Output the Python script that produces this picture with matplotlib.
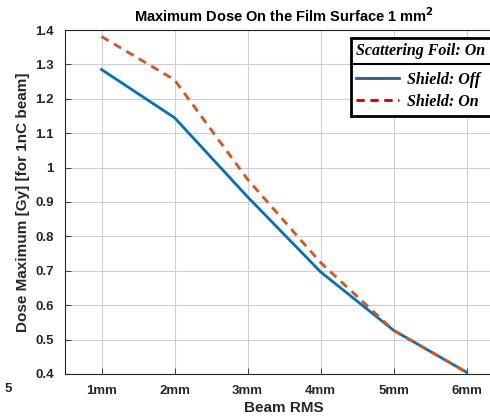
import matplotlib
matplotlib.use('Agg')
import matplotlib.pyplot as plt
from matplotlib.lines import Line2D

# Dosis maxima sobre la superficie del film (1 mm^2), normalizada a 1 nC
beam_rms = [1, 2, 3, 4, 5, 6]
tick_labels = ['1mm', '2mm', '3mm', '4mm', '5mm', '6mm']
dose_shield_off = [1.285, 1.145, 0.915, 0.697, 0.527, 0.405]
dose_shield_on = [1.381, 1.255, 0.966, 0.724, 0.527, 0.405]

plt.rcParams['font.family'] = ['Liberation Sans', 'DejaVu Sans']

fig = plt.figure(figsize=[4.9, 4.19], dpi=100)
ax = fig.add_axes([0.1327, 0.1074, 0.894, 0.821])
ax.grid(True, color='#d0d0d0', linewidth=0.8)
ax.set_axisbelow(True)

ax.plot(beam_rms, dose_shield_off, color='#0072BD', linewidth=2)
ax.plot(beam_rms, dose_shield_on, color='#D95319', linewidth=2, linestyle=(0, (3, 2.2)))

ax.set_xlim(0.5, 6.5)
ax.set_ylim(0.4, 1.4)
ax.set_xticks(beam_rms)
ax.set_xticklabels(tick_labels)
ax.set_yticks([0.4, 0.5, 0.6, 0.7, 0.8, 0.9, 1.0, 1.1, 1.2, 1.3, 1.4])
ax.set_yticklabels(['0.4', '0.5', '0.6', '0.7', '0.8', '0.9', '1', '1.1', '1.2', '1.3', '1.4'])
ax.tick_params(direction='in', length=4, width=0.6, colors='#262626', labelsize=9.5, pad=8)
for lab in ax.get_xticklabels() + ax.get_yticklabels():
    lab.set_fontweight('bold')
for s in ax.spines.values():
    s.set_color('#262626')
    s.set_linewidth(0.8)

ax.set_xlabel('Beam RMS', fontsize=11, fontweight='bold', color='#262626', labelpad=3)
ax.set_ylabel('Dose Maximum [Gy] [for 1nC beam]', fontsize=11, fontweight='bold', color='#262626', labelpad=4)
ax.set_title('Maximum Dose On the Film Surface 1 mm$^\\mathbf{2}$', fontsize=10.5, fontweight='bold', pad=6)

# Leyenda con cabecera separada
legend_font = {'family': 'Liberation Serif', 'style': 'italic', 'weight': 'bold', 'size': 11.5}
handles = [Line2D([], [], color='#2f5597', linewidth=2),
           Line2D([], [], color='#c00000', linewidth=2, linestyle=(0, (3, 2)))]
leg = ax.legend(handles, ['Shield: Off', 'Shield: On'], loc='upper left',
                bbox_to_anchor=(0.652, 0.978), borderaxespad=0, title='Scattering Foil: On',
                prop=legend_font, fancybox=False, framealpha=1, edgecolor='black',
                borderpad=0.35, handlelength=2.7, labelspacing=0.4, handletextpad=0.45)
leg.get_title().set_fontproperties(legend_font)
leg._legend_box.align = 'left'
leg._legend_box.sep = 9
leg.get_frame().set_linewidth(2)

fig.canvas.draw()
fr = leg.get_frame().get_window_extent()
tt = leg.get_title().get_window_extent()
y_sep = tt.y0 - 5
inv = fig.transFigure.inverted()
x0, y0 = inv.transform((fr.x0, y_sep))
x1, _ = inv.transform((fr.x1, y_sep))
fig.add_artist(Line2D([x0, x1], [y0, y0], color='black', linewidth=1.5, transform=fig.transFigure))

fig.text(0.01, 0.065, '5', fontsize=9.5, fontweight='bold', color='#262626')

plt.savefig('out.png', dpi=100)
